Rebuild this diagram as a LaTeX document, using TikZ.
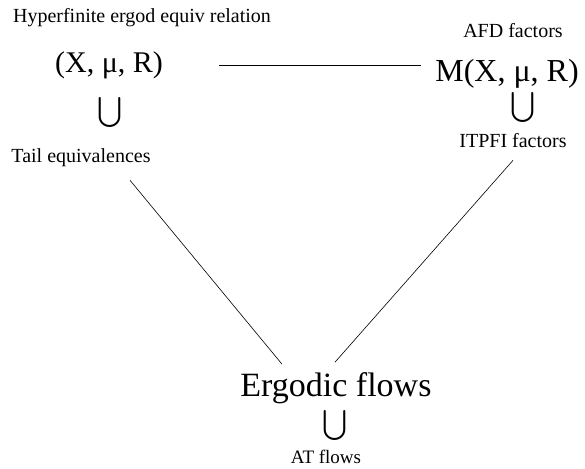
\documentclass[tikz,border=0pt]{standalone}
\usepackage{fontspec}
\setmainfont{Liberation Serif}
\usetikzlibrary{positioning}

\tikzset{
  lbl/.style={font=\fontsize{20}{22}\selectfont, inner sep=1pt},
  big/.style={font=\fontsize{30}{34}\selectfont, inner sep=0pt},
  cupsym/.style={scale=3, inner sep=0pt},
  conn/.style={line width=0.6pt},
}

\begin{document}
\begin{tikzpicture}[x=1pt,y=-1pt]
\useasboundingbox (0,0) rectangle (585,468);

% Relaciones de equivalencia
\node[lbl] (hyp) at (142,18) {Hyperfinite ergod equiv relation};
\node[big] (rel) at (109,65) {(X, μ, R)};
\node[cupsym] (cupl) at (110,112) {$\bigcup$};
\node[lbl] (tail) at (81,158) {Tail equivalences};

% Factores
\node[lbl] (afd) at (513,31) {AFD factors};
\node[big, font=\fontsize{32}{36}\selectfont] (mfac) at (507,74) {M(X, μ, R)};
\node[cupsym] (cupr) at (523,107) {$\bigcup$};
\node[lbl] (itp) at (513,141) {ITPFI factors};

% Flujos
\node[big, font=\fontsize{34}{38}\selectfont] (erg) at (336,388) {Ergodic flows};
\node[cupsym] (cupb) at (335,425) {$\bigcup$};
\node[lbl, font=\fontsize{19}{21}\selectfont] (atf) at (326,457) {AT flows};

% Conexiones
\draw[conn] ([xshift=56pt]rel.east) -- ([xshift=-14pt]rel.east -| mfac.west);
\draw[conn] ([xshift=49pt,yshift=-12pt]tail.south) -- ([xshift=-54pt,yshift=8pt]erg.north);
\draw[conn] ([yshift=-11pt]itp.south) -- ([xshift=-1pt,yshift=10pt]erg.north);

\end{tikzpicture}
\end{document}
